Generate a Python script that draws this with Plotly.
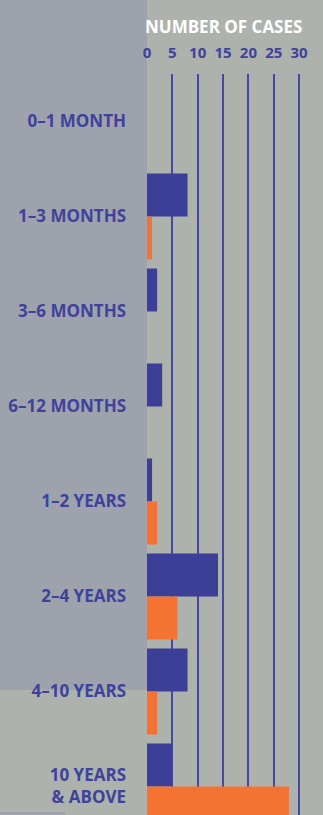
import plotly.graph_objects as go

ages = ['0–1 MONTH', '1–3 MONTHS', '3–6 MONTHS', '6–12 MONTHS',
        '1–2 YEARS', '2–4 YEARS', '4–10 YEARS', '10 YEARS<br>& ABOVE']
series_a = [0, 8, 2, 3, 1, 14, 8, 5]
series_b = [0, 1, 0, 0, 2, 6, 2, 28]
x_ticks = [0, 5, 10, 15, 20, 25, 30]

BLUE = '#3b3f97'
ORANGE = '#f47232'
BG = '#adb2ad'
PANEL = '#9ea2ad'
TXT = '#3f429c'

fig = go.Figure()
fig.add_trace(go.Bar(y=ages, x=series_a, orientation='h', marker_color=BLUE,
                     marker_line_width=0, name='a'))
fig.add_trace(go.Bar(y=ages, x=series_b, orientation='h', marker_color=ORANGE,
                     marker_line_width=0, name='b'))

W, H = 323, 815
L, T = 147, 74
pw, ph = W - L, H - T

# left panel behind the labels
fig.add_shape(type='rect', xref='paper', yref='paper', layer='below',
              x0=-L / pw, x1=0, y0=(H - 690) / ph, y1=H / ph,
              fillcolor=PANEL, line_width=0)
fig.add_shape(type='rect', xref='paper', yref='paper', layer='below',
              x0=-L / pw, x1=(65 - L) / pw, y0=0, y1=3 / ph,
              fillcolor=PANEL, line_width=0)

fig.add_annotation(text='NUMBER OF CASES', x=15, xref='x', y=1 + 48 / ph, yref='paper',
                   showarrow=False, xanchor='center', yanchor='middle',
                   font=dict(family='Open Sans', size=17, color='white', weight=700))

fig.update_layout(
    width=W, height=H,
    margin=dict(l=L, r=0, t=T, b=0),
    paper_bgcolor=BG, plot_bgcolor=BG,
    barmode='group', bargap=0.095, bargroupgap=0,
    showlegend=False,
    font=dict(family='Open Sans', color=TXT),
)
fig.update_xaxes(side='top', range=[0, pw / 5.07], tickvals=x_ticks,
                 showgrid=True, gridcolor='#4649a2', gridwidth=2,
                 zeroline=False, showline=False, ticks='',
                 ticklabelstandoff=12,
                 tickfont=dict(size=15, color=TXT, weight=700))
fig.update_yaxes(categoryorder='array', categoryarray=ages,
                 range=[(ph / 95) - 0.5, -0.5],
                 showgrid=False, zeroline=False, showline=False, ticks='',
                 ticklabelstandoff=20,
                 tickfont=dict(size=17, color=TXT, weight=700))

fig.write_html("out.html", config={'displayModeBar': False},
               post_script="document.body.style.margin='0';")
